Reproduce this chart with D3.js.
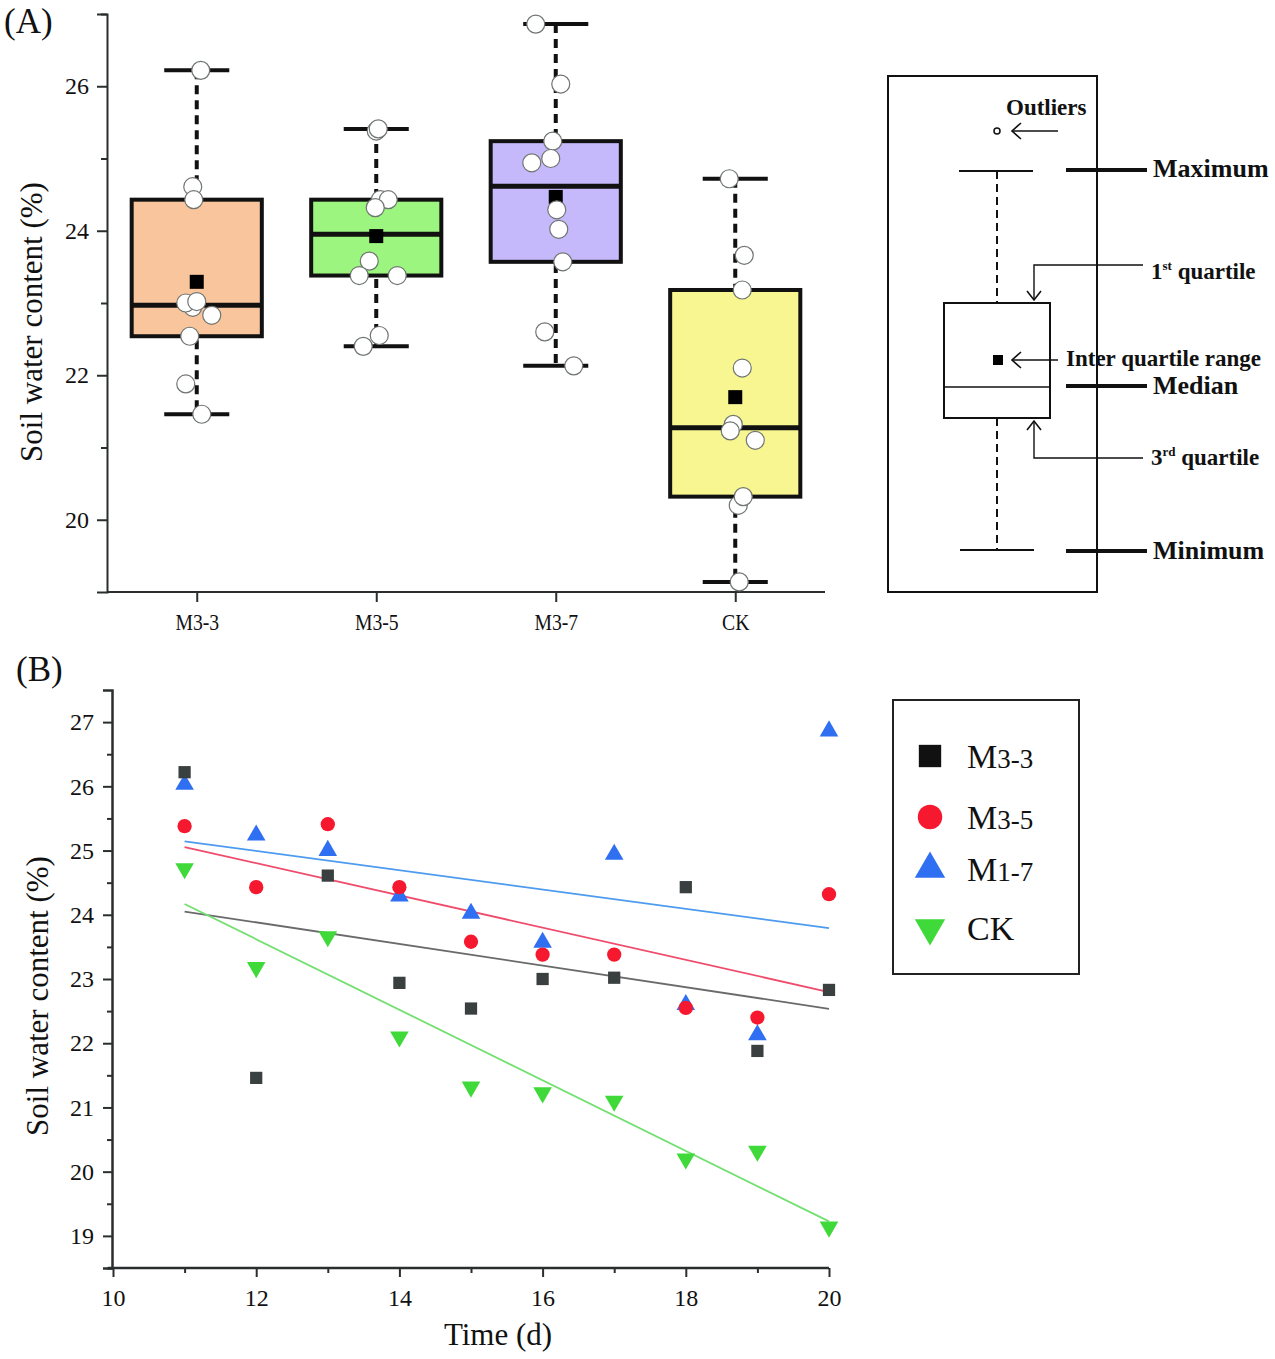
<!DOCTYPE html>
<html>
<head>
<meta charset="utf-8">
<script src="https://cdn.jsdelivr.net/npm/d3@7"></script>
<style>
  body { margin: 0; background: #fff; }
  svg text { font-family: "Liberation Serif", "Times New Roman", serif; fill: #111; }
</style>
</head>
<body>
<svg id="chart" width="1275" height="1359"></svg>
<script>
// ---- data ----
const days = [11, 12, 13, 14, 15, 16, 17, 18, 19, 20];
const m33 = [26.22, 21.46, 24.61, 22.94, 22.54, 23.00, 23.02, 24.43, 21.88, 22.83];
const m35 = [25.38, 24.43, 25.41, 24.43, 23.58, 23.38, 23.38, 22.55, 22.40, 24.32];
const m37 = [26.03, 25.24, 25.00, 24.29, 24.02, 23.57, 24.94, 22.60, 22.13, 26.86];
const ck  = [24.72, 23.18, 23.66, 22.10, 21.32, 21.23, 21.10, 20.20, 20.32, 19.14];

const groupsA = ["M3-3", "M3-5", "M3-7", "CK"];
const valuesA = [m33, m35, m37, ck];
const fillsA = ["#f9c59c", "#9cf57e", "#c6b9fb", "#f8f690"];
// horizontal jitter of the raw points in panel A (px), same order as days
const jitterA = [
  [4, 5, -4, -4, -7, -11, 0, -3, -11, 15],
  [0, 4, 2, 12, -7, -17, 21, 3, -13, -1],
  [5, -3, -5, 1, 3, 7, -24, -11, 18, -20],
  [-6, 7, 9, 7, -2, -5, 20, 3, 8, 4]
];

const seriesB = ["M3-3", "M3-5", "M1-7", "CK"];
const valuesB = [m33, m35, m37, ck];
const markColors = ["#3a3f40", "#f5182e", "#2f6ff2", "#3fd93a"];
const lineColors = ["#6a6a6a", "#ef4c6c", "#4d9bef", "#72e070"];

const svg = d3.select("#chart");

// ================= Panel A =================
const yA = d3.scaleLinear().domain([19, 27]).range([592, 14]);
const xA = d3.scalePoint().domain(groupsA).range([107, 825]).padding(0.5);
const boxW = xA.step() * 0.725;
const capW = boxW / 2;

svg.append("text").attr("x", 4).attr("y", 33).style("font-size", "35px").text("(A)");

// y axis
const gYA = svg.append("g").attr("transform", "translate(107,0)");
gYA.call(d3.axisLeft(yA).tickValues([20, 22, 24, 26]).tickSize(10).tickPadding(8).tickFormat(d3.format("d")));
gYA.call(g => g.selectAll(".tick text").style("font-size", "24px"));
const gYAm = svg.append("g").attr("transform", "translate(107,0)")
  .call(d3.axisLeft(yA).tickValues([21, 23, 25, 27]).tickSize(6).tickFormat(""));
gYAm.select(".domain").remove();
// x axis
const gXA = svg.append("g").attr("transform", "translate(0,592)")
  .call(d3.axisBottom(xA).tickSize(10).tickPadding(11));
gXA.selectAll(".tick text").style("font-size", "24px").attr("transform", "scale(0.82,1)");
gXA.select(".domain").attr("d", "M107,0H825");
svg.selectAll(".domain, .tick line").attr("stroke", "#222").attr("stroke-width", 2);

svg.append("text")
  .attr("transform", "translate(42,322) rotate(-90)")
  .attr("text-anchor", "middle")
  .style("font-size", "31px")
  .text("Soil water content (%)");

// box statistics (hinges)
const statsA = valuesA.map((vals, i) => {
  const s = vals.slice().sort(d3.ascending);
  const h = Math.floor(s.length / 2);
  return {
    name: groupsA[i],
    min: s[0], max: s[s.length - 1],
    q1: d3.median(s.slice(0, h)),
    q3: d3.median(s.slice(s.length - h)),
    med: d3.median(s),
    mean: d3.mean(s)
  };
});

const boxes = svg.append("g").selectAll("g").data(statsA).join("g");
// dashed whiskers
boxes.append("line")
  .attr("x1", d => xA(d.name)).attr("x2", d => xA(d.name))
  .attr("y1", d => yA(d.max)).attr("y2", d => yA(d.min))
  .attr("stroke", "#111").attr("stroke-width", 4).attr("stroke-dasharray", "9,6");
// caps
boxes.selectAll(".cap").data(d => [d.min, d.max].map(v => ({ name: d.name, v }))).join("line")
  .attr("x1", d => xA(d.name) - capW / 2).attr("x2", d => xA(d.name) + capW / 2)
  .attr("y1", d => yA(d.v)).attr("y2", d => yA(d.v))
  .attr("stroke", "#111").attr("stroke-width", 4);
// box
boxes.append("rect")
  .attr("x", d => xA(d.name) - boxW / 2).attr("width", boxW)
  .attr("y", d => yA(d.q3)).attr("height", d => yA(d.q1) - yA(d.q3))
  .attr("fill", (d, i) => fillsA[i]).attr("stroke", "#111").attr("stroke-width", 4);
// median
boxes.append("line")
  .attr("x1", d => xA(d.name) - boxW / 2).attr("x2", d => xA(d.name) + boxW / 2)
  .attr("y1", d => yA(d.med)).attr("y2", d => yA(d.med))
  .attr("stroke", "#111").attr("stroke-width", 5);
// mean
boxes.append("rect")
  .attr("x", d => xA(d.name) - 7).attr("y", d => yA(d.mean) - 7)
  .attr("width", 14).attr("height", 14).attr("fill", "#000");

// raw points
valuesA.forEach((vals, gi) => {
  svg.append("g").selectAll("circle").data(vals).join("circle")
    .attr("cx", (d, i) => xA(groupsA[gi]) + jitterA[gi][i])
    .attr("cy", d => yA(d))
    .attr("r", 9)
    .attr("fill", "#fff").attr("stroke", "#6f7571").attr("stroke-width", 1.2);
});

// ---- schematic legend of panel A ----
const lg = svg.append("g").attr("fill", "none").attr("stroke", "#111");
lg.append("rect").attr("x", 888).attr("y", 76).attr("width", 209).attr("height", 516).attr("stroke-width", 2);
lg.append("circle").attr("cx", 997).attr("cy", 131).attr("r", 3).attr("stroke-width", 1.5);
lg.append("line").attr("x1", 959).attr("x2", 1033).attr("y1", 171).attr("y2", 171).attr("stroke-width", 2);
lg.append("line").attr("x1", 960).attr("x2", 1034).attr("y1", 550).attr("y2", 550).attr("stroke-width", 2);
lg.append("line").attr("x1", 997).attr("x2", 997).attr("y1", 171).attr("y2", 303).attr("stroke-width", 2).attr("stroke-dasharray", "8,5");
lg.append("line").attr("x1", 997).attr("x2", 997).attr("y1", 418).attr("y2", 550).attr("stroke-width", 2).attr("stroke-dasharray", "8,5");
lg.append("rect").attr("x", 944).attr("y", 303).attr("width", 106).attr("height", 115).attr("fill", "#fff").attr("stroke-width", 2);
lg.append("line").attr("x1", 944).attr("x2", 1050).attr("y1", 387).attr("y2", 387).attr("stroke-width", 1.5);
lg.append("rect").attr("x", 993).attr("y", 355).attr("width", 10).attr("height", 10).attr("fill", "#000").attr("stroke", "none");
[170, 386, 551].forEach(y => {
  lg.append("line").attr("x1", 1066).attr("x2", 1147).attr("y1", y).attr("y2", y).attr("stroke-width", 4);
});
// arrows
function arrowHead(x, y, dir) {
  const pts = {
    left: [[x + 9, y - 8], [x, y], [x + 9, y + 8]],
    down: [[x - 7, y - 9], [x, y], [x + 7, y - 9]],
    up: [[x - 7, y + 9], [x, y], [x + 7, y + 9]]
  }[dir];
  lg.append("path").attr("d", d3.line()(pts)).attr("stroke-width", 1.6);
}
lg.append("line").attr("x1", 1058).attr("x2", 1012).attr("y1", 131).attr("y2", 131).attr("stroke-width", 1.6);
arrowHead(1012, 131, "left");
lg.append("line").attr("x1", 1058).attr("x2", 1012).attr("y1", 360).attr("y2", 360).attr("stroke-width", 1.6);
arrowHead(1012, 360, "left");
lg.append("path").attr("d", d3.line()([[1143, 265], [1034, 265], [1034, 300]])).attr("stroke-width", 1.4);
arrowHead(1034, 300, "down");
lg.append("path").attr("d", d3.line()([[1143, 458], [1034, 458], [1034, 421]])).attr("stroke-width", 1.4);
arrowHead(1034, 421, "up");

const lt = svg.append("g").style("font-weight", "bold");
lt.append("text").attr("x", 1006).attr("y", 115).style("font-size", "23px").text("Outliers");
lt.append("text").attr("x", 1153).attr("y", 177).style("font-size", "26px").text("Maximum");
lt.append("text").attr("x", 1153).attr("y", 394).style("font-size", "26px").text("Median");
lt.append("text").attr("x", 1153).attr("y", 559).style("font-size", "26px").text("Minimum");
lt.append("text").attr("x", 1066).attr("y", 366).style("font-size", "23px").text("Inter quartile range");
const q1t = lt.append("text").attr("x", 1151).attr("y", 279).style("font-size", "23px");
q1t.append("tspan").text("1");
q1t.append("tspan").attr("dy", -9).style("font-size", "13px").text("st");
q1t.append("tspan").attr("dy", 9).text(" quartile");
const q3t = lt.append("text").attr("x", 1151).attr("y", 465).style("font-size", "23px");
q3t.append("tspan").text("3");
q3t.append("tspan").attr("dy", -9).style("font-size", "13px").text("rd");
q3t.append("tspan").attr("dy", 9).text(" quartile");

// ================= Panel B =================
const xB = d3.scaleLinear().domain([10, 20]).range([113, 829]);
const yB = d3.scaleLinear().domain([18.5, 27.5]).range([1268, 690]);

svg.append("text").attr("x", 16).attr("y", 681).style("font-size", "35px").text("(B)");

const gYB = svg.append("g").attr("transform", "translate(112,0)")
  .call(d3.axisLeft(yB).tickValues(d3.range(19, 28)).tickSize(9).tickPadding(9).tickFormat(d3.format("d")));
gYB.selectAll(".tick text").style("font-size", "24px");
svg.append("g").attr("transform", "translate(112,0)")
  .call(d3.axisLeft(yB).tickValues(d3.range(18.5, 27.5, 1)).tickSize(5).tickFormat(""))
  .select(".domain").remove();
const gXB = svg.append("g").attr("transform", "translate(0,1268)")
  .call(d3.axisBottom(xB).tickValues([10, 12, 14, 16, 18, 20]).tickSize(9).tickPadding(12).tickFormat(d3.format("d")));
gXB.selectAll(".tick text").style("font-size", "24px");
gXB.select(".domain").attr("d", "M108,0H829");
svg.append("g").attr("transform", "translate(0,1268)")
  .call(d3.axisBottom(xB).tickValues([11, 13, 15, 17, 19]).tickSize(5).tickFormat(""))
  .select(".domain").remove();
svg.selectAll(".domain, .tick line").attr("stroke", "#2a2e2e").attr("stroke-width", 2);
gXB.select(".domain").attr("stroke-width", 2.5);
gYB.select(".domain").attr("stroke-width", 2.5);

svg.append("text")
  .attr("transform", "translate(48,996) rotate(-90)")
  .attr("text-anchor", "middle")
  .style("font-size", "31px")
  .text("Soil water content (%)");
svg.append("text")
  .attr("x", 498).attr("y", 1345)
  .attr("text-anchor", "middle")
  .style("font-size", "31px")
  .text("Time (d)");

// least-squares trend lines
function fit(xs, ys) {
  const mx = d3.mean(xs), my = d3.mean(ys);
  const b = d3.sum(xs, (x, i) => (x - mx) * (ys[i] - my)) / d3.sum(xs, x => (x - mx) ** 2);
  return x => my + b * (x - mx);
}
const xExt = d3.extent(days);
valuesB.forEach((vals, si) => {
  const f = fit(days, vals);
  svg.append("path")
    .attr("d", d3.line().x(d => xB(d)).y(d => yB(f(d)))(xExt))
    .attr("fill", "none").attr("stroke", lineColors[si]).attr("stroke-width", 1.8);
});

const symbols = [
  d3.symbol().type(d3.symbolSquare).size(150),
  d3.symbol().type(d3.symbolCircle).size(160),
  d3.symbol().type(d3.symbolTriangle).size(150),
  d3.symbol().type(d3.symbolTriangle).size(150)
];
const rot = [0, 0, 0, 180];
const drawOrder = [2, 0, 1, 3];
drawOrder.forEach(si => {
  svg.append("g").selectAll("path").data(valuesB[si]).join("path")
    .attr("d", symbols[si]())
    .attr("transform", (d, i) => `translate(${xB(days[i])},${yB(d)}) rotate(${rot[si]})`)
    .attr("fill", markColors[si]);
});

// legend B
svg.append("rect").attr("x", 893).attr("y", 700).attr("width", 186).attr("height", 274)
  .attr("fill", "none").attr("stroke", "#222").attr("stroke-width", 2);
const legSym = [
  d3.symbol().type(d3.symbolSquare).size(500),
  d3.symbol().type(d3.symbolCircle).size(470),
  d3.symbol().type(d3.symbolTriangle).size(400),
  d3.symbol().type(d3.symbolTriangle).size(400)
];
const legY = [756, 817, 869, 928];
const legLabels = [["M", "3-3"], ["M", "3-5"], ["M", "1-7"], ["CK", ""]];
seriesB.forEach((s, i) => {
  svg.append("path").attr("d", legSym[i]())
    .attr("transform", `translate(930,${legY[i]}) rotate(${rot[i]})`)
    .attr("fill", i === 0 ? "#111" : markColors[i]);
  const t = svg.append("text").attr("x", 967).attr("y", legY[i] + 12).style("font-size", "34px");
  t.append("tspan").text(legLabels[i][0]);
  t.append("tspan").style("font-size", "27px").text(legLabels[i][1]);
});
</script>
</body>
</html>
